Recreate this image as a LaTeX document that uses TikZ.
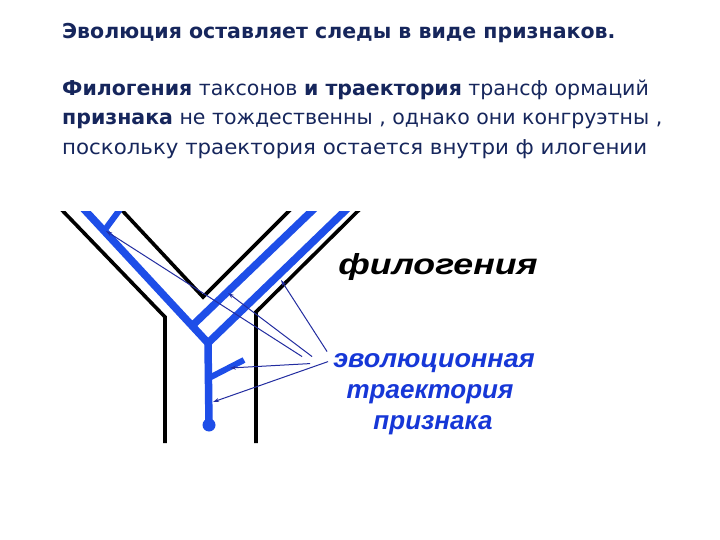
\documentclass[tikz,border=0pt]{standalone}
\usepackage{fontspec}
\setmainfont{DejaVu Sans}
\newfontfamily\labelfont{Liberation Sans}
\usetikzlibrary{positioning, calc, arrows.meta}

\definecolor{navytext}{RGB}{22,38,92}
\definecolor{branchblue}{RGB}{30,78,232}
\definecolor{labelblue}{RGB}{22,55,215}
\definecolor{pointerblue}{RGB}{35,45,160}

\begin{document}
\begin{tikzpicture}[x=1pt, y=-1pt]
		\tikzstyle{outline} = [line width=3.6pt, black, line join=miter]
		\tikzstyle{branch} = [line width=7.5pt, branchblue, line join=miter]
		\tikzstyle{twig} = [line width=6pt, branchblue]
		\tikzstyle{pointer} = [-{Stealth[length=6pt, width=4pt]}, line width=1pt, pointerblue]
		\tikzstyle{textline} = [anchor=base west, inner sep=0, text=navytext, font=\fontsize{20.5}{20.5}\selectfont]
		\tikzstyle{tag} = [anchor=base, inner sep=0, font=\labelfont\bfseries\itshape\fontsize{26}{26}\selectfont]

		\useasboundingbox[fill=white] (0,0) rectangle (720,540);

		% Text
		\node[textline, font=\bfseries\fontsize{20.5}{20.5}\selectfont](title) at (62,39) {Эволюция оставляет следы в виде признаков.};
		\node[textline](line_1) at (62,96) {\textbf{Филогения} таксонов \textbf{и траектория} трансф ормаций};
		\node[textline](line_2) at (62,125) {\textbf{признака} не тождественны , однако они конгруэтны ,};
		\node[textline](line_3) at (62,155) {\scalebox{1.04}[1]{поскольку траектория остается внутри ф илогении}};

		% Labels
		\node[tag, font=\labelfont\bfseries\itshape\fontsize{29}{29}\selectfont](phylo) at (438,274) {\scalebox{1.23}[1]{филогения}};
		\node[tag, text=labelblue](evo) at (434,367) {\scalebox{1.04}[1]{эволюционная}};
		\node[tag, text=labelblue](traj) at (430,398) {траектория};
		\node[tag, text=labelblue](trait) at (433,429) {признака};

		% Branch points
		\coordinate (fork) at (208,343);
		\coordinate (stub_base) at (104,231);
		\coordinate (side_base) at (209,378);
		\coordinate (inner_end) at (194,324);
		\coordinate (trunk_end) at (209,425);

		\begin{scope}
			\clip (0,212) rectangle (720,540);
			% Phylogeny
			\draw[outline] (58,206) -- (165,317) -- (165,443);
			\draw[outline] (118,206) -- (203,297) -- (294,206);
			\draw[outline] (363,206) -- (256,312) -- (256,443);
			% Trajectory
			\draw[branch] (81,206) -- (fork) -- (350,206);
			\draw[branch] (inner_end) -- (317,206);
			\draw[twig] (stub_base) -- (121,208);
		\end{scope}
		\draw[branch] (fork) -- (trunk_end);
		\draw[twig] (side_base) -- (244,360);
		\fill[branchblue] (trunk_end) circle (6.5pt);

		% Pointers
		\coordinate (hit_stub) at (106,231);
		\coordinate (hit_inner) at (228,293);
		\coordinate (hit_outer) at (281,280);
		\coordinate (hit_side) at (230,368);
		\coordinate (hit_trunk) at (213,402);
		\draw[pointer] ($(evo.west)+(-31,-6)$) -- (hit_stub);
		\draw[pointer] ($(evo.west)+(-21,-6)$) -- (hit_inner);
		\draw[pointer] ($(evo.west)+(-6,-11)$) -- (hit_outer);
		\draw[pointer] ($(evo.west)+(-23,1)$) -- (hit_side);
		\draw[pointer] ($(evo.west)+(-5,-1)$) -- (hit_trunk);

	\end{tikzpicture}
\end{document}
